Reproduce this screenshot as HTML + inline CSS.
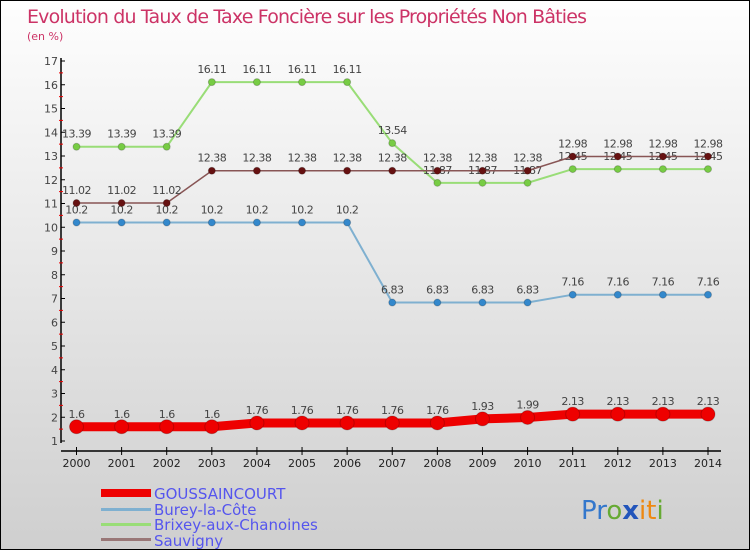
<!DOCTYPE html>
<html><head><meta charset="utf-8"><style>
body{margin:0;}
#c{position:relative;width:748px;height:548px;border:1px solid #000;background:linear-gradient(#fefefe,#cfcfcf);font-family:"DejaVu Sans","Liberation Sans",sans-serif;overflow:hidden}
svg{position:absolute;left:0;top:0}
</style></head><body>
<div id="c">
<svg id="s" width="748" height="548">
<text x="26" y="22" font-size="19" fill="#cc3366" textLength="560">Evolution du Taux de Taxe Foncière sur les Propriétés Non Bâties</text>
<text x="26" y="39" font-size="11" fill="#cc3366">(en %)</text>
<g id="axes"></g><g id="series"></g>
<g font-size="15" fill="#5555ee">
<rect x="100" y="488" width="50" height="8" fill="#ee0000"/>
<text x="153" y="498">GOUSSAINCOURT</text>
<rect x="100" y="507" width="50" height="3" fill="#7fb0d0"/>
<text x="153" y="514">Burey-la-Côte</text>
<rect x="100" y="522" width="50" height="3" fill="#99dd77"/>
<text x="153" y="529">Brixey-aux-Chanoines</text>
<rect x="100" y="537" width="50" height="3" fill="#997777"/>
<text x="153" y="545">Sauvigny</text>
</g>
<text x="580" y="518" font-size="26" font-family="'DejaVu Sans',sans-serif"><tspan fill="#3377cc">Pr</tspan><tspan fill="#66aa33">o</tspan><tspan fill="#2255bb" font-weight="bold">x</tspan><tspan fill="#ee8811">it</tspan><tspan fill="#66aa33">i</tspan></text>
</svg></div>
<script>
const years=[2000,2001,2002,2003,2004,2005,2006,2007,2008,2009,2010,2011,2012,2013,2014];
const yTicks=[1,2,3,4,5,6,7,8,9,10,11,12,13,14,15,16,17];
const goussaincourt=[1.6,1.6,1.6,1.6,1.76,1.76,1.76,1.76,1.76,1.93,1.99,2.13,2.13,2.13,2.13];
const burey=[10.2,10.2,10.2,10.2,10.2,10.2,10.2,6.83,6.83,6.83,6.83,7.16,7.16,7.16,7.16];
const brixey=[13.39,13.39,13.39,16.11,16.11,16.11,16.11,13.54,11.87,11.87,11.87,12.45,12.45,12.45,12.45];
const sauvigny=[11.02,11.02,11.02,12.38,12.38,12.38,12.38,12.38,12.38,12.38,12.38,12.98,12.98,12.98,12.98];
const NS="http://www.w3.org/2000/svg";
const X=y=>75.5+(y-2000)*(707-75.5)/14;
const Y=v=>440-(v-1)*(380/16);
function mk(t,a,p){const e=document.createElementNS(NS,t);for(const k in a)e.setAttribute(k,a[k]);p.appendChild(e);return e;}
const ax=document.getElementById('axes');
let l=mk('line',{x1:60,y1:Y(17)-3,x2:60,y2:442,stroke:'#000','stroke-width':1.5},ax);


l=mk('line',{x1:60,y1:450,x2:720,y2:450,stroke:'#000','stroke-width':1.5},ax);


yTicks.forEach(v=>{
 mk('line',{x1:60,y1:Y(v),x2:64,y2:Y(v),stroke:'#000'},ax);
 if(v<17)mk('line',{x1:58,y1:Y(v+0.5),x2:62,y2:Y(v+0.5),stroke:'#e00'},ax);
 const t=mk('text',{x:57,y:Y(v)+4,'text-anchor':'end','font-size':11,fill:'#444'},ax);t.textContent=v;
 
 
});
years.forEach(y=>{
 mk('line',{x1:X(y),y1:446,x2:X(y),y2:454,stroke:'#000'},ax);
 const t=mk('text',{x:X(y),y:466,'text-anchor':'middle','font-size':11,fill:'#222'},ax);t.textContent=y;
 
 
});
const sg=document.getElementById('series');
function draw(name,vals,color,w,r,dot){
 const g=mk('g',{},sg);
 
 
 mk('polyline',{points:vals.map((v,i)=>X(years[i])+','+Y(v)).join(' '),fill:'none',stroke:color,'stroke-width':w},g);
 vals.forEach((v,i)=>{
  const c=mk('circle',{cx:X(years[i]),cy:Y(v),r:r,fill:dot,stroke:'#0003'},g);
  
  
  const t=mk('text',{x:X(years[i]),y:Y(v)-9,'text-anchor':'middle','font-size':11,fill:'#444','letter-spacing':'-0.5'},g);
  t.textContent=v;
  
  
 });
}
draw('burey',burey,'#7fb0d0',2,3.5,'#3388cc');
draw('brixey',brixey,'#99dd77',2,3.5,'#77cc44');
draw('sauvigny',sauvigny,'#885555',1.5,3.5,'#661111');
draw('goussaincourt',goussaincourt,'#ee0000',9,7,'#ee0000');
</script>
</body></html>
